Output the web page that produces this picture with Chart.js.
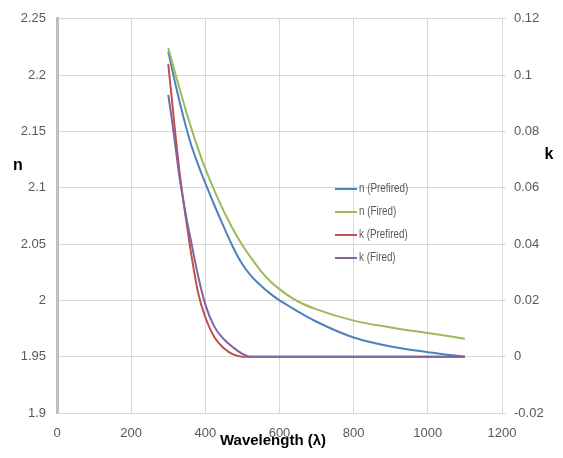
<!DOCTYPE html>
<html>
<head>
<meta charset="utf-8">
<script src="https://cdn.jsdelivr.net/npm/chart.js@4/dist/chart.umd.min.js"></script>
<style>
  body { margin: 0; background: #fff; }
  #wrap { width: 563px; height: 458px; }
</style>
</head>
<body>
<div id="wrap"><canvas id="chart" width="563" height="458"></canvas></div>
<script>
// wavelength in nm, one x list per pair of series
const wlN = [300, 320, 340, 360, 380, 400, 425, 450, 475, 500, 525, 550, 575, 600, 625, 650, 700, 800, 900, 1000, 1100];
const nPrefired = [2.221, 2.191, 2.164, 2.140, 2.121, 2.104, 2.084, 2.065, 2.047, 2.032, 2.021, 2.013, 2.006, 2.0, 1.995, 1.990, 1.981, 1.967, 1.959, 1.954, 1.95];
const nFired = [2.224, 2.200, 2.177, 2.155, 2.135, 2.117, 2.097, 2.079, 2.063, 2.049, 2.037, 2.026, 2.017, 2.010, 2.004, 1.999, 1.992, 1.982, 1.976, 1.971, 1.966];

const wlK = [300, 310, 320, 330, 340, 350, 360, 380, 400, 425, 450, 475, 500, 520, 550, 600, 700, 800, 900, 1000, 1100];
const kPrefired = [0.104, 0.091, 0.078, 0.066, 0.056, 0.047, 0.038, 0.023, 0.014, 0.0068, 0.003, 0.0008, 0, 0, 0, 0, 0, 0, 0, 0, 0];
const kFired = [0.093, 0.084, 0.074, 0.064, 0.056, 0.0485, 0.042, 0.029, 0.0185, 0.0105, 0.0062, 0.0033, 0.001, 0, 0, 0, 0, 0, 0, 0, 0];

const seriesLabels = ["n (Prefired)", "n (Fired)", "k (Prefired)", "k (Fired)"];
const seriesColors = ["#4F81BD", "#9BBB59", "#C0504D", "#8064A2"];
const seriesX = [wlN, wlN, wlK, wlK];
const seriesValues = [nPrefired, nFired, kPrefired, kFired];
const seriesAxis = ["yN", "yN", "yK", "yK"];
const seriesOrder = [3, 2, 1, 0]; // purple ends up on top like excel

const tickFont = { family: "'Liberation Sans', Arial, sans-serif", size: 13 };
const tickColor = "#595959";
const gridColor = "#D9D9D9";

const fmt = (v) => String(parseFloat(Number(v).toFixed(3)));

const datasets = seriesLabels.map((label, i) => ({
  label: label,
  data: seriesX[i].map((x, j) => ({ x: x, y: seriesValues[i][j] })),
  yAxisID: seriesAxis[i],
  borderColor: seriesColors[i],
  backgroundColor: seriesColors[i],
  borderWidth: 2,
  pointRadius: 0,
  showLine: true,
  cubicInterpolationMode: "monotone",
  order: seriesOrder[i],
}));

// legend + axis titles drawn by hand so they sit where excel put them
const extras = {
  id: "extras",
  afterDraw: (chart) => {
    const { ctx } = chart;
    ctx.save();
    // legend inside the plot
    ctx.font = "12px 'Liberation Sans', Arial, sans-serif";
    ctx.textBaseline = "middle";
    ctx.textAlign = "left";
    seriesLabels.forEach((label, i) => {
      const y = 189 + i * 23;
      ctx.strokeStyle = seriesColors[i];
      ctx.lineWidth = 2;
      ctx.beginPath();
      ctx.moveTo(335, y);
      ctx.lineTo(357, y);
      ctx.stroke();
      ctx.fillStyle = "#595959";
      // squeeze the text a bit, the original font is a narrow one
      ctx.save();
      ctx.translate(359, y);
      ctx.scale(0.82, 1);
      ctx.fillText(label, 0, 0);
      ctx.restore();
    });

    // axis titles
    ctx.fillStyle = "#000";
    ctx.font = "bold 16px 'Liberation Sans', Arial, sans-serif";
    ctx.textAlign = "center";
    ctx.fillText("n", 18, 166);
    ctx.fillText("k", 549, 155);
    ctx.font = "bold 15px 'Liberation Sans', Arial, sans-serif";
    ctx.fillText("Wavelength (\u03BB)", 273, 441);
    ctx.restore();
  },
};

new Chart(document.getElementById("chart"), {
  type: "scatter",
  data: { datasets: datasets },
  options: {
    responsive: false,
    animation: false,
    layout: { padding: { top: 15, right: 0, left: 0, bottom: 0 } },
    plugins: {
      legend: { display: false },
      tooltip: { enabled: false },
    },
    scales: {
      x: {
        type: "linear",
        min: 0,
        max: 1200,
        ticks: { stepSize: 200, font: tickFont, color: tickColor, padding: 13, callback: (v) => String(v) },
        grid: { color: gridColor, drawTicks: false },
        border: { color: gridColor },
        afterFit: (scale) => { scale.height = 45; },
      },
      yN: {
        type: "linear",
        position: "left",
        min: 1.9,
        max: 2.25,
        ticks: { stepSize: 0.05, font: tickFont, color: tickColor, padding: 11, callback: fmt },
        grid: { color: gridColor, drawTicks: false },
        border: { color: "#BFBFBF", width: 3 },
        afterFit: (scale) => { scale.width = 57; },
      },
      yK: {
        type: "linear",
        position: "right",
        min: -0.02,
        max: 0.12,
        ticks: { stepSize: 0.02, font: tickFont, color: tickColor, padding: 8, callback: fmt },
        grid: { color: gridColor, drawOnChartArea: false, tickLength: 4 },
        border: { color: gridColor },
        afterFit: (scale) => { scale.width = 61; },
      },
    },
  },
  plugins: [extras],
});
</script>
</body>
</html>
